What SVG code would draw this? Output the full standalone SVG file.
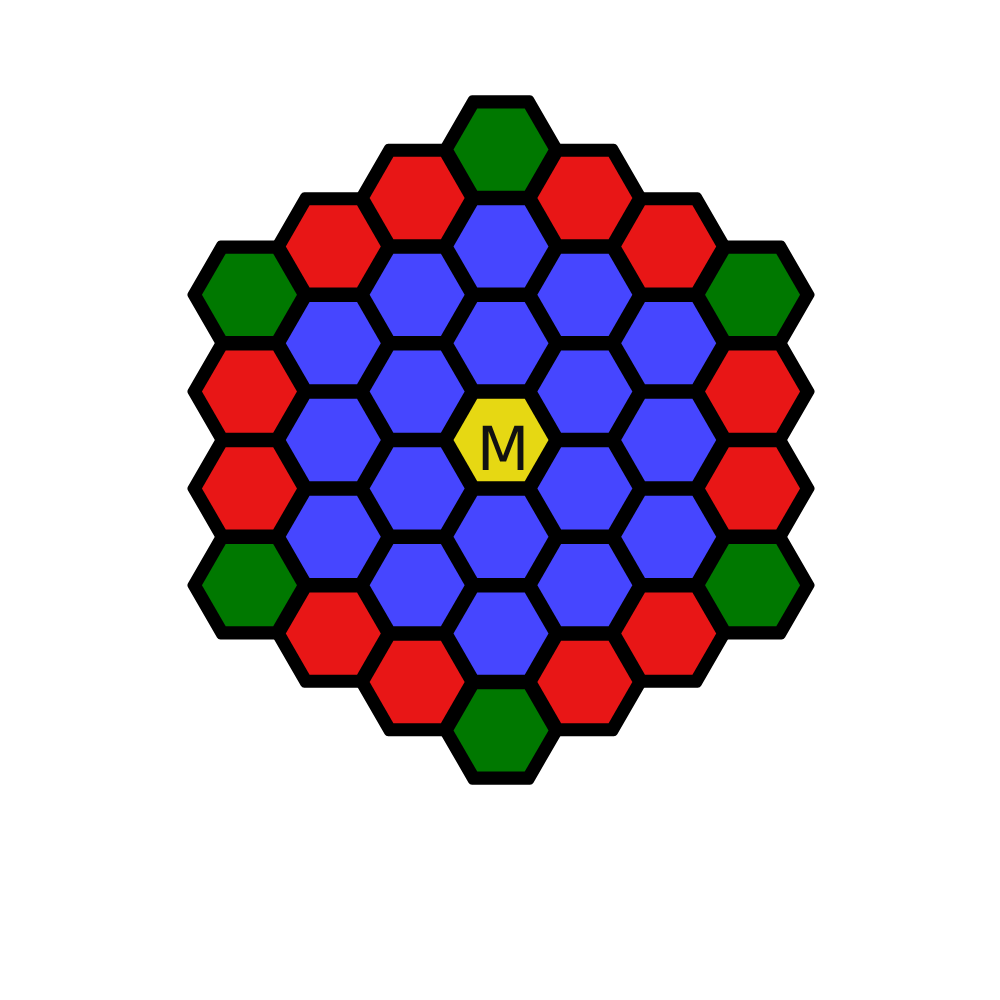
<svg xmlns="http://www.w3.org/2000/svg" xmlns:xlink="http://www.w3.org/1999/xlink" width="1000" height="1000" viewBox="0 0 1000 1000">
<style>
.bk{fill:#000;stroke:#000;stroke-width:8;stroke-linejoin:round}
.r{fill:#e81616}
.g{fill:#007800}
.b{fill:#4646ff}
.y{fill:#e6d813}
.lbl{font-family:"DejaVu Sans",sans-serif;font-size:61px;fill:#111;text-anchor:middle}
</style>
<defs>
<polygon id="hb" points="58,0 29,50.23 -29,50.23 -58,0 -29,-50.23 29,-50.23"/>
<polygon id="hf" points="47.5,0 23.75,41.14 -23.75,41.14 -47.5,0 -23.75,-41.14 23.75,-41.14"/>
</defs>
<rect width="1000" height="1000" fill="#fff"/>
<g id="outline" class="bk">
<use href="#hb" x="249.45" y="294.8"/><use href="#hb" x="249.45" y="391.6"/><use href="#hb" x="249.45" y="488.4"/><use href="#hb" x="249.45" y="585.2"/>
<use href="#hb" x="333.3" y="246.4"/><use href="#hb" x="333.3" y="343.2"/><use href="#hb" x="333.3" y="440"/><use href="#hb" x="333.3" y="536.8"/><use href="#hb" x="333.3" y="633.6"/>
<use href="#hb" x="417.15" y="198"/><use href="#hb" x="417.15" y="294.8"/><use href="#hb" x="417.15" y="391.6"/><use href="#hb" x="417.15" y="488.4"/><use href="#hb" x="417.15" y="585.2"/><use href="#hb" x="417.15" y="682"/>
<use href="#hb" x="501" y="149.6"/><use href="#hb" x="501" y="246.4"/><use href="#hb" x="501" y="343.2"/><use href="#hb" x="501" y="440"/><use href="#hb" x="501" y="536.8"/><use href="#hb" x="501" y="633.6"/><use href="#hb" x="501" y="730.4"/>
<use href="#hb" x="584.85" y="198"/><use href="#hb" x="584.85" y="294.8"/><use href="#hb" x="584.85" y="391.6"/><use href="#hb" x="584.85" y="488.4"/><use href="#hb" x="584.85" y="585.2"/><use href="#hb" x="584.85" y="682"/>
<use href="#hb" x="668.7" y="246.4"/><use href="#hb" x="668.7" y="343.2"/><use href="#hb" x="668.7" y="440"/><use href="#hb" x="668.7" y="536.8"/><use href="#hb" x="668.7" y="633.6"/>
<use href="#hb" x="752.55" y="294.8"/><use href="#hb" x="752.55" y="391.6"/><use href="#hb" x="752.55" y="488.4"/><use href="#hb" x="752.55" y="585.2"/>
</g>
<g id="connectors"/>
<g id="h-3-0"><use href="#hf" class="g" x="249.45" y="294.8"/></g>
<g id="h-3-1"><use href="#hf" class="r" x="249.45" y="391.6"/></g>
<g id="h-3-2"><use href="#hf" class="r" x="249.45" y="488.4"/></g>
<g id="h-3-3"><use href="#hf" class="g" x="249.45" y="585.2"/></g>
<g id="h-2-m1"><use href="#hf" class="r" x="333.3" y="246.4"/></g>
<g id="h-2-0"><use href="#hf" class="b" x="333.3" y="343.2"/></g>
<g id="h-2-1"><use href="#hf" class="b" x="333.3" y="440"/></g>
<g id="h-2-2"><use href="#hf" class="b" x="333.3" y="536.8"/></g>
<g id="h-2-3"><use href="#hf" class="r" x="333.3" y="633.6"/></g>
<g id="h-1-m2"><use href="#hf" class="r" x="417.15" y="198"/></g>
<g id="h-1-m1"><use href="#hf" class="b" x="417.15" y="294.8"/></g>
<g id="h-1-0"><use href="#hf" class="b" x="417.15" y="391.6"/></g>
<g id="h-1-1"><use href="#hf" class="b" x="417.15" y="488.4"/></g>
<g id="h-1-2"><use href="#hf" class="b" x="417.15" y="585.2"/></g>
<g id="h-1-3"><use href="#hf" class="r" x="417.15" y="682"/></g>
<g id="h0-m3"><use href="#hf" class="g" x="501" y="149.6"/></g>
<g id="h0-m2"><use href="#hf" class="b" x="501" y="246.4"/></g>
<g id="h0-m1"><use href="#hf" class="b" x="501" y="343.2"/></g>
<g id="h0-0"><use href="#hf" class="y" x="501" y="440"/><text class="lbl" x="503" y="470">M</text></g>
<g id="h0-1"><use href="#hf" class="b" x="501" y="536.8"/></g>
<g id="h0-2"><use href="#hf" class="b" x="501" y="633.6"/></g>
<g id="h0-3"><use href="#hf" class="g" x="501" y="730.4"/></g>
<g id="h1-m3"><use href="#hf" class="r" x="584.85" y="198"/></g>
<g id="h1-m2"><use href="#hf" class="b" x="584.85" y="294.8"/></g>
<g id="h1-m1"><use href="#hf" class="b" x="584.85" y="391.6"/></g>
<g id="h1-0"><use href="#hf" class="b" x="584.85" y="488.4"/></g>
<g id="h1-1"><use href="#hf" class="b" x="584.85" y="585.2"/></g>
<g id="h1-2"><use href="#hf" class="r" x="584.85" y="682"/></g>
<g id="h2-m3"><use href="#hf" class="r" x="668.7" y="246.4"/></g>
<g id="h2-m2"><use href="#hf" class="b" x="668.7" y="343.2"/></g>
<g id="h2-m1"><use href="#hf" class="b" x="668.7" y="440"/></g>
<g id="h2-0"><use href="#hf" class="b" x="668.7" y="536.8"/></g>
<g id="h2-1"><use href="#hf" class="r" x="668.7" y="633.6"/></g>
<g id="h3-m3"><use href="#hf" class="g" x="752.55" y="294.8"/></g>
<g id="h3-m2"><use href="#hf" class="r" x="752.55" y="391.6"/></g>
<g id="h3-m1"><use href="#hf" class="r" x="752.55" y="488.4"/></g>
<g id="h3-0"><use href="#hf" class="g" x="752.55" y="585.2"/></g>
</svg>
